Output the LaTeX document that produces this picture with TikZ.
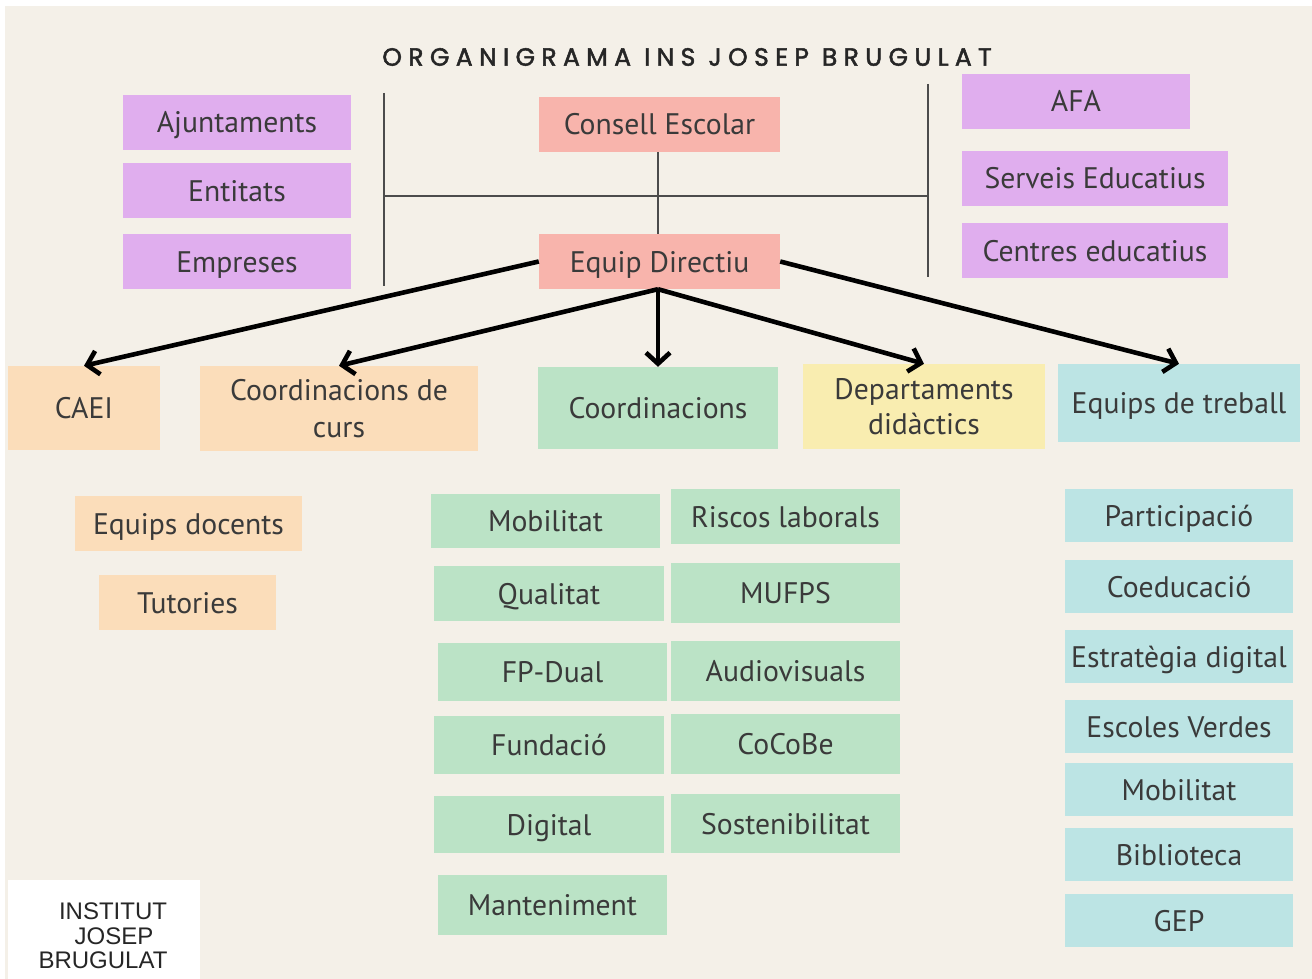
\documentclass[tikz,border=0pt]{standalone}
\usepackage{fontspec}
\setmainfont{PT Sans}
\newfontfamily\titlefont[LetterSpace=25.6,FakeBold=2]{Poppins}
\newfontfamily\logofont{Liberation Sans}
\usetikzlibrary{arrows.meta}
\definecolor{bgc}{HTML}{F4F0E8}
\definecolor{purp}{HTML}{E0AEEE}
\definecolor{pinkc}{HTML}{F8B4AC}
\definecolor{orng}{HTML}{FBDDBA}
\definecolor{grn}{HTML}{BBE3C6}
\definecolor{yel}{HTML}{F9EDB0}
\definecolor{cyn}{HTML}{BCE4E4}
\definecolor{txt}{HTML}{3A3A3A}
\tikzset{
  x=1pt,y=-1pt,
  boxn/.style={inner sep=0pt,align=center,text=txt,font=\fontsize{29.7}{37}\selectfont},
  thin line/.style={draw=black!70,line width=1.5pt},
  big arrow/.style={draw=black,line width=4.6pt,-{Straight Barb[length=11pt,width=24pt,line width=4.6pt]}},
  logotext/.style={inner sep=0pt,text=black!85,font=\logofont\fontsize{24}{25}\selectfont},
}
\newcommand{\lb}[1]{\raisebox{0pt}[21pt][0pt]{#1}}
% name, colour, x1, y1, x2, y2, text
\newcommand{\bx}[7]{%
  \pgfmathsetmacro{\cxx}{(#3+#5)/2}\pgfmathsetmacro{\cyy}{(#4+#6)/2}%
  \pgfmathsetmacro{\wdd}{#5-#3}\pgfmathsetmacro{\htt}{#6-#4}%
  \node[boxn,fill=#2,minimum width=\wdd pt,minimum height=\htt pt] (#1) at (\cxx,\cyy) {#7};}
\begin{document}
\begin{tikzpicture}
\useasboundingbox (0,0) rectangle (1312,979);
\fill[white] (0,0) rectangle (1312,979);
\fill[bgc] (5,6) rectangle (1312,979);
\node[inner sep=0pt,text=black!85,font=\titlefont\fontsize{25}{30}\selectfont] (title) at (687,57) {ORGANIGRAMA INS JOSEP BRUGULAT};

\bx{aj}{purp}{123}{95}{351}{150}{\lb{Ajuntaments}}
\bx{en}{purp}{123}{163}{351}{218}{\lb{Entitats}}
\bx{em}{purp}{123}{234}{351}{289}{\lb{Empreses}}
\bx{ce}{pinkc}{539}{97}{780}{152}{\lb{Consell Escolar}}
\bx{ed}{pinkc}{539}{234}{780}{289}{\lb{Equip Directiu}}
\bx{afa}{purp}{962}{74}{1190}{129}{\lb{AFA}}
\bx{se}{purp}{962}{151}{1228}{206}{\lb{Serveis Educatius}}
\bx{cd}{purp}{962}{223}{1228}{278}{\lb{Centres educatius}}

\bx{caei}{orng}{8}{366}{160}{450}{\lb{CAEI}}
\bx{curs}{orng}{200}{366}{478}{451}{\lb{Coordinacions de}\\\lb{curs}}
\bx{coord}{grn}{538}{367}{778}{449}{\lb{Coordinacions}}
\bx{dept}{yel}{803}{364}{1045}{449}{\lb{Departaments}\\[-2pt]\lb{didàctics}}
\bx{eqt}{cyn}{1058}{364}{1300}{442}{\lb{Equips de treball}}

\bx{edoc}{orng}{75}{496}{302}{551}{\lb{Equips docents}}
\bx{tut}{orng}{99}{575}{276}{630}{\lb{Tutories}}

\bx{mob}{grn}{431}{494}{660}{548}{\lb{Mobilitat}}
\bx{qua}{grn}{434}{566}{664}{621}{\lb{Qualitat}}
\bx{fpd}{grn}{438}{643}{667}{701}{\lb{FP-Dual}}
\bx{fun}{grn}{434}{716}{664}{774}{\lb{Fundació}}
\bx{dig}{grn}{434}{796}{664}{853}{\lb{Digital}}
\bx{man}{grn}{438}{875}{667}{935}{\lb{Manteniment}}
\bx{ris}{grn}{671}{489}{900}{544}{\lb{Riscos laborals}}
\bx{muf}{grn}{671}{563}{900}{623}{\lb{MUFPS}}
\bx{aud}{grn}{671}{641}{900}{701}{\lb{Audiovisuals}}
\bx{coc}{grn}{671}{714}{900}{774}{\lb{CoCoBe}}
\bx{sos}{grn}{671}{794}{900}{853}{\lb{Sostenibilitat}}

\bx{par}{cyn}{1065}{489}{1293}{542}{\lb{Participació}}
\bx{coe}{cyn}{1065}{560}{1293}{613}{\lb{Coeducació}}
\bx{est}{cyn}{1065}{630}{1293}{683}{\lb{Estratègia digital}}
\bx{esc}{cyn}{1065}{700}{1293}{753}{\lb{Escoles Verdes}}
\bx{mob2}{cyn}{1065}{763}{1293}{816}{\lb{Mobilitat}}
\bx{bib}{cyn}{1065}{828}{1293}{881}{\lb{Biblioteca}}
\bx{gep}{cyn}{1065}{894}{1293}{947}{\lb{GEP}}

\fill[white] (8,880) rectangle (200,979);
\node[logotext] (l1) at (113,911) {INSTITUT};
\node[logotext] (l2) at (114,936) {JOSEP};
\node[logotext] (l3) at (103,960) {BRUGULAT};

\coordinate (vlt) at (384,93);
\coordinate (vlb) at (384,286);
\coordinate (vrt) at (928,84);
\coordinate (vrb) at (928,277);
\coordinate (hl) at (384,196);
\coordinate (hr) at (928,196);
\draw[thin line] (vlt) -- (vlb);
\draw[thin line] (vrt) -- (vrb);
\draw[thin line] (hl) -- (hr);
\draw[thin line] ([xshift=-1.5pt]ce.south) -- ([xshift=-1.5pt]ed.north);

\draw[big arrow] (ed.west) -- (caei.north);
\draw[big arrow] ([xshift=-1.5pt]ed.south) -- (curs.north);
\draw[big arrow] ([xshift=-1.5pt]ed.south) -- (coord.north);
\draw[big arrow] ([xshift=-1.5pt]ed.south) -- (dept.north);
\draw[big arrow] (ed.east) -- (eqt.north);
\end{tikzpicture}
\end{document}
